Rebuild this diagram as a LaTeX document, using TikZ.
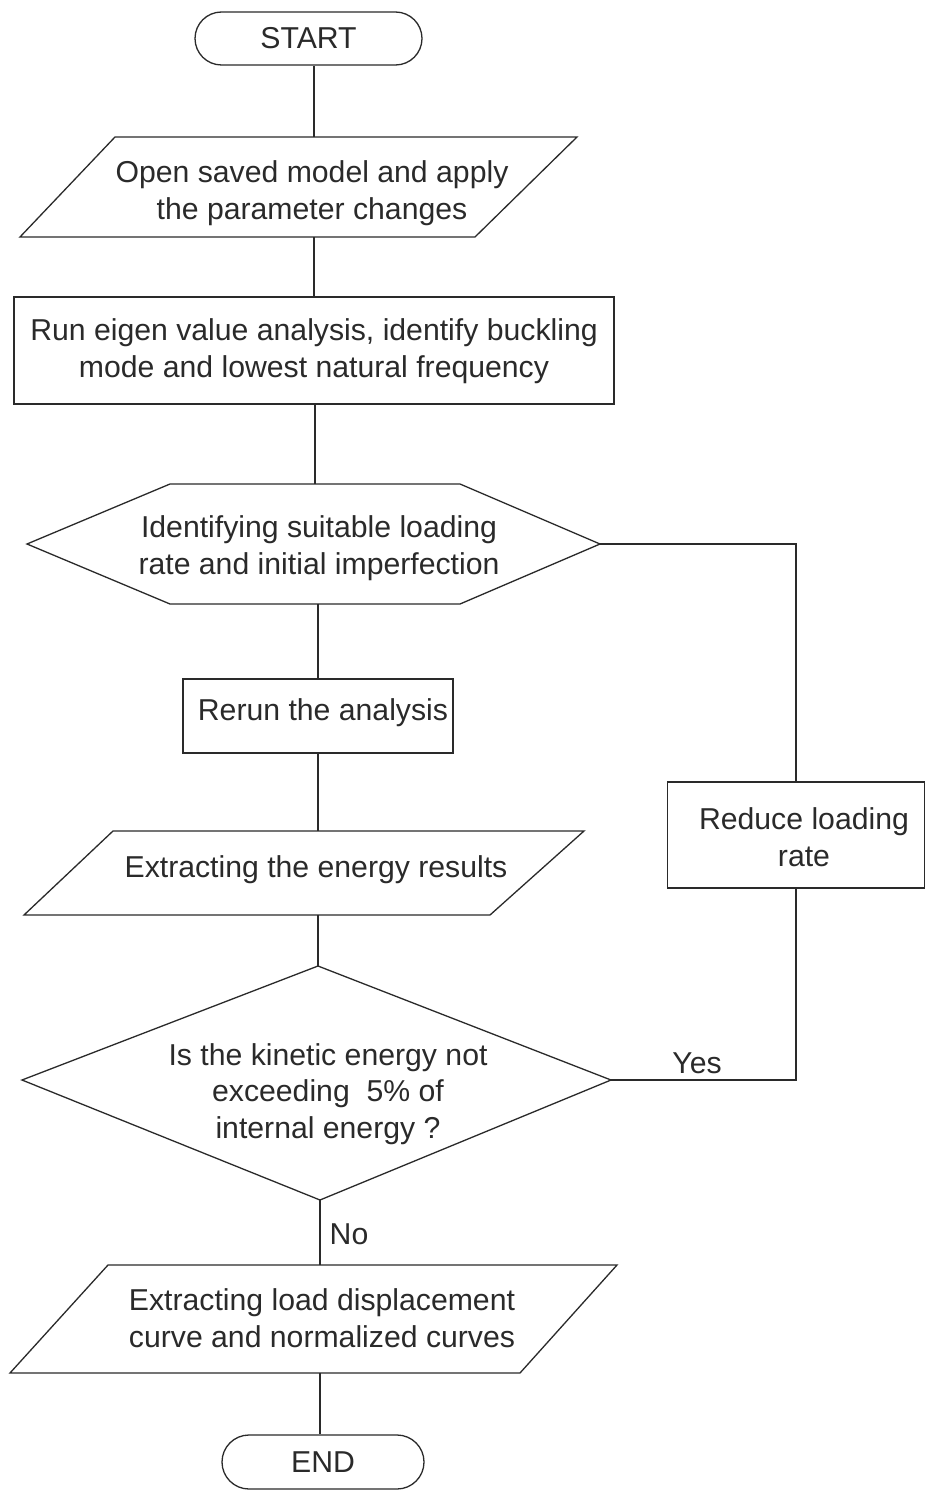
\documentclass[tikz,border=0pt]{standalone}
\usepackage{fontspec}
\setmainfont{Liberation Sans}
\usetikzlibrary{shapes.misc}
\definecolor{ink}{HTML}{2A2A2A}
\begin{document}
\begin{tikzpicture}[x=1pt,y=-1pt,
  every node/.style={text=ink,font=\fontsize{30.2}{36.5}\selectfont,inner sep=0pt,align=center},
  outline/.style={draw=ink,line width=1.3pt,line join=miter},
  conn/.style={draw=ink,line width=1.3pt},
  term/.style={outline,rounded rectangle,minimum height=53pt},
  boxnode/.style={outline,rectangle},
  hold/.style={rectangle,minimum width=10pt}
]
\useasboundingbox (0,0) rectangle (926,1490);
\fill[white] (0,0) rectangle (926,1490);

% START
\node[term,minimum width=227pt] (start) at (308.5,38.5) {START};

% parallelogram 1
\draw[outline] (20,237) -- (115,137) -- (577,137) -- (475,237) -- cycle;
\node[hold,minimum height=100pt] (p1) at (314,187) {};
\node at (312,193) {Open saved model and apply\\the parameter changes};

% rectangle 1
\node[boxnode,minimum width=600pt,minimum height=107pt] (r1) at (314,350.5) {};
\node at (314,351) {Run eigen value analysis, identify buckling\\mode and lowest natural frequency};

% hexagon
\draw[outline] (27,544) -- (170,484) -- (460,484) -- (600,544) -- (460,604) -- (170,604) -- cycle;
\node[hold,minimum height=120pt] (h1) at (315,544) {};
\coordinate (h1r) at (600,544);
\node at (319,548) {Identifying suitable loading\\rate and initial imperfection};

% rerun
\node[boxnode,minimum width=270pt,minimum height=74pt] (rr) at (318,716) {};
\node at (323,713) {Rerun the analysis};

% parallelogram 2
\draw[outline] (24,915) -- (113,831) -- (584,831) -- (490,915) -- cycle;
\node[hold,minimum height=84pt] (p2) at (318,873) {};
\node at (316,870) {Extracting the energy results};

% diamond
\draw[outline] (318,966) -- (611,1080) -- (320,1200) -- (22,1080) -- cycle;
\coordinate (dtop) at (318,966);
\coordinate (dright) at (611,1080);
\coordinate (dbot) at (320,1200);
\node (dtext) at (328,1094) {Is the kinetic energy not\\exceeding\ \ 5\% of\\internal energy ?};

% parallelogram 3
\draw[outline] (10,1373) -- (108,1265) -- (617,1265) -- (520,1373) -- cycle;
\node[hold,minimum height=108pt] (p3) at (320,1319) {};
\node at (322,1318) {Extracting load displacement\\curve and normalized curves};

% END
\node[term,minimum width=202pt,minimum height=54pt] (end) at (323,1462) {END};

% reduce loading rate
\node[boxnode,minimum width=257pt,minimum height=106pt] (red) at (796,835) {};
\node at (804,837) {Reduce loading\\rate};

% connectors
\draw[conn] (p1.north) -- (p1.north |- start.south);
\draw[conn] (p1.south) -- (r1.north);
\draw[conn] (h1.north) -- (h1.north |- r1.south);
\draw[conn] (rr.north) -- (rr.north |- h1.south);
\draw[conn] (rr.south) -- (p2.north);
\draw[conn] (p2.south) -- (dtop);
\draw[conn] (dbot) -- (p3.north);
\draw[conn] (p3.south) -- (p3.south |- end.north);
\draw[conn] (h1r) -| (red.north);
\draw[conn] (red.south) |- (dright);

% labels
\node (yes) at (697,1063) {Yes};
\node (no) at (349,1234) {No};
\end{tikzpicture}
\end{document}
